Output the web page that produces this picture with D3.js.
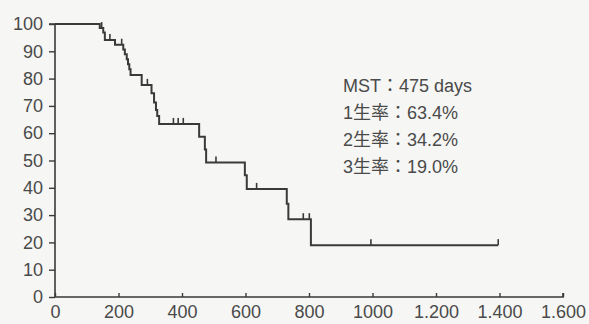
<!DOCTYPE html>
<html>
<head>
<meta charset="utf-8">
<script src="https://cdn.jsdelivr.net/npm/d3@7"></script>
<style>
  html, body { margin: 0; padding: 0; background: #f6f6f4; }
  svg { display: block; }
  text { font-family: "Liberation Sans", Arial, "Noto Sans CJK JP", sans-serif; fill: #4a4a4a; }
</style>
</head>
<body>
<svg id="chart" width="589" height="324"></svg>
<script>
// Kaplan–Meier survival curve (days vs. % surviving)
const eventDays = [141, 152, 157, 189, 215, 220, 226, 230, 234, 238, 273, 304, 312, 318, 322, 328,
                   454, 472, 476, 598, 604, 730, 735, 806];
const eventSurvival = [98.5, 96.9, 94.1, 92.4, 90.7, 88.9, 87.1, 85.3, 83.4, 81.3, 77.7, 74.6, 71.2, 68.5, 66.3, 63.4,
                       58.7, 54.0, 49.3, 44.6, 39.6, 34.2, 28.5, 19.0];
const censoredDays = [147, 173, 210, 291, 373, 388, 404, 507, 635, 782, 801, 995, 1396];
const lastFollowUp = 1396;

const xTicks = [0, 200, 400, 600, 800, 1000, 1200, 1400, 1600];
const xTickLabels = ["0", "200", "400", "600", "800", "1000", "1.200", "1.400", "1.600"];
const yTicks = [0, 10, 20, 30, 40, 50, 60, 70, 80, 90, 100];

const summaryLines = ["MST：475 days", "1生率：63.4%", "2生率：34.2%", "3生率：19.0%"];

const svg = d3.select("#chart");
const x = d3.scaleLinear().domain([0, 1600]).range([55, 563]);
const y = d3.scaleLinear().domain([0, 100]).range([297, 24]);

const ink = "#3a3a3a";

// Step function lookup
function survivalAt(t) {
  const i = d3.bisectRight(eventDays, t);
  return i === 0 ? 100 : eventSurvival[i - 1];
}

// Axes
const yAxis = d3.axisLeft(y).tickValues(yTicks).tickSize(6).tickPadding(4).tickFormat(d3.format("d"));
const gy = svg.append("g").attr("transform", `translate(${x(0)},0)`).call(yAxis);
gy.select(".domain").attr("stroke", ink).attr("stroke-width", 1.6).attr("d", `M-6,${y(100)}H0V${y(0)}`);
gy.selectAll(".tick line").attr("stroke", ink).attr("stroke-width", 1.4);
gy.selectAll(".tick text").attr("font-size", 18).attr("fill", "#4a4a4a")
  .attr("font-family", "Liberation Sans, Arial, sans-serif").attr("x", -12);

const xAxis = d3.axisBottom(x).tickValues(xTicks).tickSize(-4).tickPadding(8)
  .tickFormat((d, i) => xTickLabels[i]);
const gx = svg.append("g").attr("transform", `translate(0,${y(0)})`).call(xAxis);
gx.select(".domain").attr("stroke", ink).attr("stroke-width", 1.6).attr("d", `M${x(0)},0H${x(1600)}V-4`);
gx.selectAll(".tick line").attr("stroke", ink).attr("stroke-width", 1.4);
gx.selectAll(".tick text").attr("font-size", 18).attr("fill", "#4a4a4a")
  .attr("font-family", "Liberation Sans, Arial, sans-serif").attr("y", 8.5);

// Survival curve
const pts = [[0, 100]];
eventDays.forEach((d, i) => pts.push([d, eventSurvival[i]]));
pts.push([lastFollowUp, eventSurvival[eventSurvival.length - 1]]);
const line = d3.line().x(d => x(d[0])).y(d => y(d[1])).curve(d3.curveStepAfter);
svg.append("path").datum(pts)
  .attr("d", line)
  .attr("fill", "none")
  .attr("stroke", ink)
  .attr("stroke-width", 2);

// Censor marks
svg.append("g").selectAll("line").data(censoredDays).join("line")
  .attr("x1", d => x(d)).attr("x2", d => x(d))
  .attr("y1", d => y(survivalAt(d)))
  .attr("y2", d => y(survivalAt(d)) - 6)
  .attr("stroke", ink).attr("stroke-width", 1.6);

// Summary annotation
svg.append("g").selectAll("text").data(summaryLines).join("text")
  .attr("x", 343)
  .attr("y", (d, i) => 92 + i * 27)
  .attr("font-size", 18)
  .attr("font-family", "Liberation Sans, Arial, 'Noto Sans CJK JP', sans-serif")
  .text(d => d);
</script>
</body>
</html>
